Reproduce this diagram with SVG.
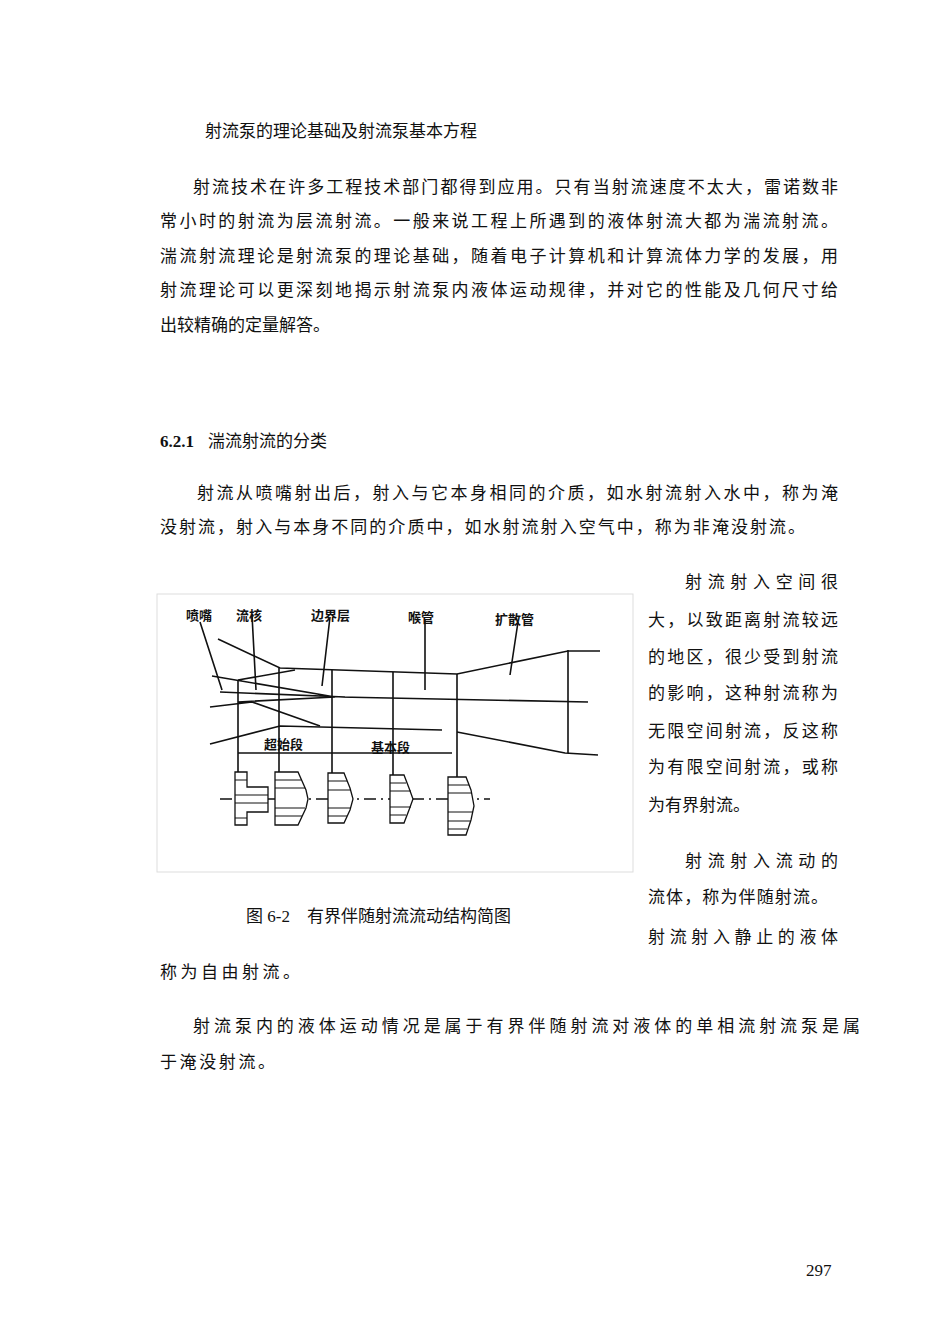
<svg xmlns="http://www.w3.org/2000/svg" width="950" height="1344" viewBox="0 0 950 1344">
<style>
.t{font-family:"Liberation Serif","Noto Sans CJK SC",serif;font-size:17px;fill:#111}
.l{font-family:"Noto Sans CJK SC",sans-serif;font-size:13px;font-weight:bold;fill:#111}
.k{stroke:#111;stroke-width:1.6;fill:none}
.h{stroke:#111;stroke-width:1.3;fill:#fff}
</style>
<rect width="950" height="1344" fill="#fff"/>
<g id="text">
<text class="t" x="205" y="137">射流泵的理论基础及射流泵基本方程</text>
<text class="t" x="193" y="193" textLength="645" lengthAdjust="spacing">射流技术在许多工程技术部门都得到应用。只有当射流速度不太大，雷诺数非</text>
<text class="t" x="160" y="227" textLength="678" lengthAdjust="spacing">常小时的射流为层流射流。一般来说工程上所遇到的液体射流大都为湍流射流。</text>
<text class="t" x="160" y="262" textLength="678" lengthAdjust="spacing">湍流射流理论是射流泵的理论基础，随着电子计算机和计算流体力学的发展，用</text>
<text class="t" x="160" y="296" textLength="678" lengthAdjust="spacing">射流理论可以更深刻地揭示射流泵内液体运动规律，并对它的性能及几何尺寸给</text>
<text class="t" x="160" y="331">出较精确的定量解答。</text>
<text class="t" x="160" y="447"><tspan font-weight="bold">6.2.1</tspan><tspan dx="14">湍流射流的分类</tspan></text>
<text class="t" x="197" y="499" textLength="641" lengthAdjust="spacing">射流从喷嘴射出后，射入与它本身相同的介质，如水射流射入水中，称为淹</text>
<text class="t" x="160" y="533" textLength="645" lengthAdjust="spacing">没射流，射入与本身不同的介质中，如水射流射入空气中，称为非淹没射流。</text>
<text class="t" x="685" y="588" textLength="153" lengthAdjust="spacing">射流射入空间很</text>
<text class="t" x="648" y="626" textLength="190" lengthAdjust="spacing">大，以致距离射流较远</text>
<text class="t" x="648" y="663" textLength="190" lengthAdjust="spacing">的地区，很少受到射流</text>
<text class="t" x="648" y="699" textLength="190" lengthAdjust="spacing">的影响，这种射流称为</text>
<text class="t" x="648" y="737" textLength="190" lengthAdjust="spacing">无限空间射流，反这称</text>
<text class="t" x="648" y="773" textLength="190" lengthAdjust="spacing">为有限空间射流，或称</text>
<text class="t" x="648" y="811">为有界射流。</text>
<text class="t" x="685" y="867" textLength="153" lengthAdjust="spacing">射流射入流动的</text>
<text class="t" x="648" y="903" textLength="180" lengthAdjust="spacing">流体，称为伴随射流。</text>
<text class="t" x="648" y="943" textLength="190" lengthAdjust="spacing">射流射入静止的液体</text>
<text class="t" x="246" y="922">图 6-2　有界伴随射流流动结构简图</text>
<text class="t" x="160" y="978" textLength="140" lengthAdjust="spacing">称为自由射流。</text>
<text class="t" x="193" y="1032" textLength="667" lengthAdjust="spacing">射流泵内的液体运动情况是属于有界伴随射流对液体的单相流射流泵是属</text>
<text class="t" x="160" y="1068" textLength="115" lengthAdjust="spacing">于淹没射流。</text>
<text class="t" x="806" y="1276">297</text>
</g>
<g id="figure">
<rect x="157" y="594" width="476" height="278" fill="none" stroke="#ddd" stroke-width="1"/>
<text class="l" x="186" y="620">喷嘴</text>
<text class="l" x="236" y="620">流核</text>
<text class="l" x="311" y="620">边界层</text>
<text class="l" x="408" y="622">喉管</text>
<text class="l" x="495" y="624">扩散管</text>
<text class="l" x="264" y="749">超始段</text>
<text class="l" x="371" y="752">基本段</text>
</g>
<g id="connectors">
<path class="k" d="M218 639 L280 668 L457 674 L568 651 L600 651"/>
<path class="k" d="M210 744 L280 726 L442 730 M457 732 L565 753 L598 755"/>
<path class="k" d="M212 676 L335 697 M220 692 L345 697 M340 697 L588 702 M210 707 L252 702 L320 726 M238 680 L295 670 M238 702 L335 697"/>
<path class="k" d="M238 680 V823 M279 668 V772 M332 670 V775 M393 672 V775 M457 674 V830 M568 650 V753"/>
<path class="k" d="M238 753 H452"/>
<path class="k" d="M200 622 L222 690 M252 615 L256 690 M330 617 L322 686 M425 620 L425 690 M518 622 L510 675"/>
<path class="k" stroke-dasharray="12 5 2 5" d="M220 799 H490"/>
<path class="h" d="M235 772 H247 V787 H268 V812 H247 V825 H235 Z"/>
<path class="h" d="M275 772 H298 L306 790 L308 799 L306 808 L298 825 H275 Z"/>
<path class="h" d="M328 773 H344 L350 788 L353 799 L350 810 L344 823 H328 Z"/>
<path class="h" d="M390 775 H404 L409 788 L413 799 L409 810 L404 823 H390 Z"/>
<path class="h" d="M448 777 H466 L471 790 L474 806 L471 820 L466 835 H448 Z"/>
<path stroke="#111" stroke-width="1" d="M235 780 H247 M235 795 H268 M235 803 H268 M235 818 H247 M275 780 H301 M275 788 H305 M275 808 H305 M275 816 H302 M328 781 H347 M328 790 H351 M328 808 H351 M328 816 H347 M390 783 H406 M390 791 H411 M390 807 H411 M390 815 H406 M448 785 H469 M448 793 H472 M448 812 H473 M448 821 H470 M448 829 H467"/>
</g>
</svg>
